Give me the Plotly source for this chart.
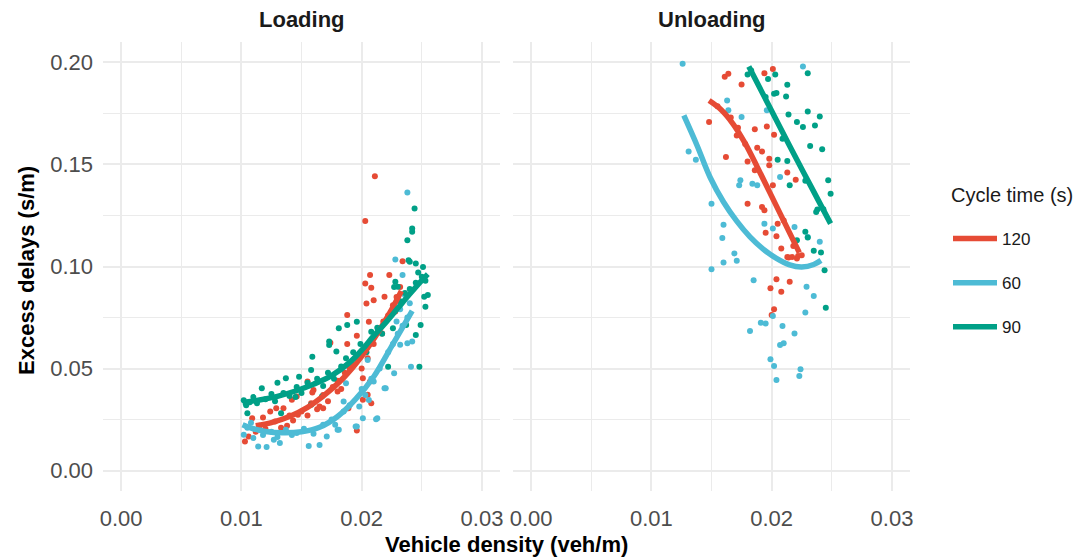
import plotly.graph_objects as go

# ---------------- data ----------------
series = ["120", "60", "90"]
colors = {"120": "#E64B35", "60": "#4DBBD5", "90": "#00A087"}

# Loading panel scatter
load_x_120 = [0.0211, 0.0203, 0.0234, 0.0207, 0.0223, 0.0203, 0.0208, 0.0219, 0.0204, 0.0210, 0.0188, 0.0206,
              0.0196, 0.0188, 0.0217, 0.0174, 0.0205, 0.0190, 0.0201, 0.0155, 0.0160, 0.0146, 0.0165, 0.0135,
              0.0124, 0.0109, 0.0196, 0.0103, 0.0106, 0.0205, 0.0208, 0.0129, 0.0147, 0.0142, 0.0159, 0.0168,
              0.0180, 0.0201, 0.0189, 0.0207, 0.0115, 0.0120, 0.0128, 0.0133, 0.0140, 0.0143, 0.0150, 0.0155,
              0.0158, 0.0163, 0.0168, 0.0172, 0.0176, 0.0180, 0.0183, 0.0186, 0.0192, 0.0197, 0.0200, 0.0210,
              0.0214, 0.0218, 0.0222, 0.0226, 0.0229, 0.0232, 0.0228, 0.0112, 0.0118, 0.0138]
load_y_120 = [0.1442, 0.1223, 0.1026, 0.0958, 0.0958, 0.0917, 0.0896, 0.0852, 0.0819, 0.0835, 0.0762, 0.0729,
              0.0661, 0.0620, 0.0672, 0.0627, 0.0550, 0.0501, 0.0452, 0.0436, 0.0395, 0.0363, 0.0314, 0.0306,
              0.0290, 0.0257, 0.0196, 0.0143, 0.0167, 0.0371, 0.0330, 0.0306, 0.0274, 0.0347, 0.0383, 0.0306,
              0.0387, 0.0347, 0.0306, 0.0436, 0.0220, 0.0205, 0.0240, 0.0210, 0.0270, 0.0245, 0.0290, 0.0270,
              0.0330, 0.0300, 0.0370, 0.0340, 0.0410, 0.0440, 0.0400, 0.0480, 0.0520, 0.0550, 0.0500, 0.0620,
              0.0690, 0.0730, 0.0760, 0.0810, 0.0850, 0.0900, 0.0780, 0.0190, 0.0260, 0.0220]

load_x_60 = [0.0238, 0.0228, 0.0234, 0.0242, 0.0241, 0.0205, 0.0227, 0.0219, 0.0210, 0.0206, 0.0198, 0.0213,
             0.0201, 0.0195, 0.0180, 0.0171, 0.0165, 0.0156, 0.0146, 0.0127, 0.0121, 0.0114, 0.0102, 0.0185,
             0.0187, 0.0220, 0.0232, 0.0238, 0.0212, 0.0196, 0.0181, 0.0105, 0.0108, 0.0115, 0.0118, 0.0125,
             0.0130, 0.0137, 0.0142, 0.0152, 0.0160, 0.0168, 0.0175, 0.0178, 0.0185, 0.0190, 0.0200, 0.0203,
             0.0208, 0.0215, 0.0222, 0.0226, 0.0230, 0.0234, 0.0238, 0.0240, 0.0236, 0.0232, 0.0229, 0.0110,
             0.0132]
load_y_60 = [0.1362, 0.1034, 0.0958, 0.0632, 0.0509, 0.0542, 0.0477, 0.0403, 0.0436, 0.0346, 0.0314, 0.0257,
             0.0257, 0.0216, 0.0200, 0.0167, 0.0126, 0.0121, 0.0184, 0.0151, 0.0115, 0.0118, 0.0176, 0.0338,
             0.0428, 0.0404, 0.0616, 0.0624, 0.0252, 0.0216, 0.0200, 0.0210, 0.0235, 0.0200, 0.0175, 0.0190,
             0.0165, 0.0200, 0.0175, 0.0205, 0.0180, 0.0225, 0.0250, 0.0225, 0.0290, 0.0320, 0.0400, 0.0370,
             0.0450, 0.0500, 0.0580, 0.0620, 0.0670, 0.0710, 0.0750, 0.0820, 0.0860, 0.0790, 0.0730, 0.0160,
             0.0135]

load_x_90 = [0.0244, 0.0242, 0.0242, 0.0238, 0.0240, 0.0245, 0.0251, 0.0228, 0.0230, 0.0255, 0.0253, 0.0252,
             0.0249, 0.0245, 0.0237, 0.0226, 0.0248, 0.0222, 0.0196, 0.0188, 0.0181, 0.0173, 0.0173, 0.0179,
             0.0196, 0.0159, 0.0158, 0.0148, 0.0137, 0.0130, 0.0117, 0.0145, 0.0158, 0.0167, 0.0133, 0.0105,
             0.0102, 0.0104, 0.0107, 0.0110, 0.0113, 0.0120, 0.0125, 0.0128, 0.0135, 0.0140, 0.0146, 0.0150,
             0.0155, 0.0163, 0.0168, 0.0172, 0.0177, 0.0183, 0.0187, 0.0193, 0.0199, 0.0204, 0.0208, 0.0213,
             0.0217, 0.0221, 0.0225, 0.0232, 0.0236, 0.0240, 0.0245, 0.0250, 0.0253, 0.0247, 0.0227, 0.0239]
load_y_90 = [0.1284, 0.1186, 0.1170, 0.1129, 0.1023, 0.1015, 0.0998, 0.0925, 0.0901, 0.0860, 0.0803, 0.0852,
             0.0713, 0.0664, 0.0713, 0.0697, 0.0509, 0.0509, 0.0729, 0.0713, 0.0697, 0.0632, 0.0615, 0.0583,
             0.0558, 0.0558, 0.0493, 0.0460, 0.0452, 0.0431, 0.0403, 0.0360, 0.0322, 0.0363, 0.0281, 0.0281,
             0.0345, 0.0320, 0.0335, 0.0360, 0.0330, 0.0350, 0.0375, 0.0340, 0.0380, 0.0365, 0.0410, 0.0380,
             0.0430, 0.0450, 0.0415, 0.0480, 0.0450, 0.0510, 0.0550, 0.0580, 0.0620, 0.0580, 0.0680, 0.0700,
             0.0670, 0.0740, 0.0770, 0.0830, 0.0870, 0.0890, 0.0920, 0.0950, 0.0930, 0.0970, 0.0900, 0.1031]

# Unloading panel scatter
unload_x_120 = [0.0161, 0.0164, 0.0194, 0.0201, 0.0175, 0.0148, 0.0186, 0.0196, 0.0202, 0.0162, 0.0188, 0.0192,
                0.0198, 0.0198, 0.0180, 0.0213, 0.0220, 0.0186, 0.0201, 0.0180, 0.0192, 0.0194, 0.0205, 0.0195,
                0.0204, 0.0208, 0.0214, 0.0221, 0.0204, 0.0215, 0.0199, 0.0208, 0.0202, 0.0200, 0.0171, 0.0155,
                0.0166, 0.0172, 0.0178, 0.0210, 0.0218, 0.0222, 0.0225, 0.0213, 0.0217]
unload_y_120 = [0.1930, 0.1944, 0.1947, 0.1968, 0.1892, 0.1708, 0.1672, 0.1686, 0.1646, 0.1536, 0.1582, 0.1564,
                0.1528, 0.1496, 0.1515, 0.1460, 0.1425, 0.1471, 0.1398, 0.1308, 0.1292, 0.1276, 0.1210, 0.1165,
                0.1148, 0.1088, 0.1044, 0.1039, 0.0937, 0.0925, 0.0893, 0.0876, 0.0790, 0.0762, 0.1642, 0.1785,
                0.1730, 0.1680, 0.1600, 0.1225, 0.1100, 0.1052, 0.1055, 0.1047, 0.1047]

unload_x_60 = [0.0126, 0.0163, 0.0164, 0.0196, 0.0175, 0.0226, 0.0131, 0.0137, 0.0207, 0.0174, 0.0173, 0.0184,
               0.0188, 0.0150, 0.0194, 0.0201, 0.0219, 0.0160, 0.0159, 0.0230, 0.0240, 0.0169, 0.0171, 0.0160,
               0.0150, 0.0185, 0.0229, 0.0235, 0.0228, 0.0201, 0.0191, 0.0195, 0.0209, 0.0182, 0.0219, 0.0207,
               0.0210, 0.0199, 0.0202, 0.0204, 0.0224, 0.0223]
unload_y_60 = [0.1993, 0.1813, 0.1765, 0.1765, 0.1732, 0.1980, 0.1564, 0.1523, 0.1439, 0.1422, 0.1398, 0.1406,
               0.1398, 0.1308, 0.1210, 0.1186, 0.1194, 0.1205, 0.1140, 0.1145, 0.1121, 0.1064, 0.1028, 0.1020,
               0.0987, 0.0933, 0.0901, 0.0855, 0.0775, 0.0757, 0.0725, 0.0721, 0.0708, 0.0684, 0.0672, 0.0615,
               0.0624, 0.0545, 0.0513, 0.0444, 0.0496, 0.0464]

unload_x_90 = [0.0180, 0.0197, 0.0203, 0.0230, 0.0213, 0.0202, 0.0204, 0.0212, 0.0214, 0.0230, 0.0240, 0.0221,
               0.0226, 0.0236, 0.0209, 0.0232, 0.0242, 0.0205, 0.0213, 0.0215, 0.0247, 0.0249, 0.0237, 0.0238,
               0.0228, 0.0230, 0.0221, 0.0235, 0.0241, 0.0244, 0.0245, 0.0183, 0.0195, 0.0210, 0.0228, 0.0243]
unload_y_90 = [0.1941, 0.1919, 0.1941, 0.1947, 0.1890, 0.1846, 0.1850, 0.1833, 0.1745, 0.1760, 0.1735, 0.1708,
               0.1683, 0.1691, 0.1626, 0.1590, 0.1574, 0.1523, 0.1517, 0.1398, 0.1422, 0.1357, 0.1267, 0.1279,
               0.1170, 0.1142, 0.1129, 0.1077, 0.1069, 0.0982, 0.0798, 0.1960, 0.1830, 0.1630, 0.1420, 0.1280]

# Smoothed trend curves
load_fit_x_120 = [0.0112, 0.0125, 0.0140, 0.0155, 0.0170, 0.0185, 0.0200, 0.0215, 0.0225, 0.0233]
load_fit_y_120 = [0.0220, 0.0235, 0.0265, 0.0310, 0.0375, 0.0455, 0.0560, 0.0690, 0.0790, 0.0880]
load_fit_x_60 = [0.0101, 0.0110, 0.0120, 0.0134, 0.0150, 0.0165, 0.0180, 0.0195, 0.0210, 0.0225, 0.0242]
load_fit_y_60 = [0.0225, 0.0205, 0.0192, 0.0185, 0.0190, 0.0212, 0.0265, 0.0350, 0.0460, 0.0610, 0.0783]
load_fit_x_90 = [0.0101, 0.0115, 0.0130, 0.0145, 0.0160, 0.0175, 0.0190, 0.0200, 0.0210, 0.0220, 0.0230,
                 0.0240, 0.0250, 0.0255]
load_fit_y_90 = [0.0334, 0.0346, 0.0364, 0.0390, 0.0423, 0.0465, 0.0530, 0.0590, 0.0660, 0.0725, 0.0795,
                 0.0865, 0.0932, 0.0963]

unload_fit_x_120 = [0.0148, 0.0158, 0.0168, 0.0178, 0.0188, 0.0198, 0.0208, 0.0218, 0.0223]
unload_fit_y_120 = [0.1813, 0.1768, 0.1698, 0.1603, 0.1488, 0.1368, 0.1248, 0.1128, 0.1068]
unload_fit_x_60 = [0.0127, 0.0138, 0.0149, 0.0160, 0.0171, 0.0182, 0.0193, 0.0204, 0.0215, 0.0225, 0.0235, 0.0241]
unload_fit_y_60 = [0.1740, 0.1593, 0.1435, 0.1316, 0.1222, 0.1145, 0.1085, 0.1040, 0.1008, 0.0998, 0.1010, 0.1030]
unload_fit_x_90 = [0.0181, 0.0198, 0.0215, 0.0232, 0.0249]
unload_fit_y_90 = [0.1980, 0.1785, 0.1590, 0.1400, 0.1210]

x_ticks = [0.0, 0.01, 0.02, 0.03]
x_tick_text = ["0.00", "0.01", "0.02", "0.03"]
y_ticks = [0.0, 0.05, 0.10, 0.15, 0.20]
y_tick_text = ["0.00", "0.05", "0.10", "0.15", "0.20"]

# ---------------- figure ----------------
# The page body has an 8px margin, so the figure is drawn 8px smaller and
# all layout positions are given in window pixels minus that offset.
OFF = 8
W, H = 1081 - OFF, 558 - OFF
FONT = "Liberation Sans, Arial, Helvetica, sans-serif"

scatter = {
    ("x", "y"): {"120": (load_x_120, load_y_120), "60": (load_x_60, load_y_60), "90": (load_x_90, load_y_90)},
    ("x2", "y2"): {"120": (unload_x_120, unload_y_120), "60": (unload_x_60, unload_y_60),
                   "90": (unload_x_90, unload_y_90)},
}
fits = {
    ("x", "y"): {"120": (load_fit_x_120, load_fit_y_120), "60": (load_fit_x_60, load_fit_y_60),
                 "90": (load_fit_x_90, load_fit_y_90)},
    ("x2", "y2"): {"120": (unload_fit_x_120, unload_fit_y_120), "60": (unload_fit_x_60, unload_fit_y_60),
                   "90": (unload_fit_x_90, unload_fit_y_90)},
}

fig = go.Figure()
for (xa, ya), d in scatter.items():
    for s in series:
        xs, ys = d[s]
        fig.add_trace(go.Scatter(x=xs, y=ys, mode="markers", xaxis=xa, yaxis=ya,
                                 marker=dict(color=colors[s], size=6, line=dict(width=0)),
                                 showlegend=False, legendgroup=s, hoverinfo="skip"))
for (xa, ya), d in fits.items():
    for s in series:
        xs, ys = d[s]
        fig.add_trace(go.Scatter(x=xs, y=ys, mode="lines", xaxis=xa, yaxis=ya, name=s,
                                 line=dict(color=colors[s], width=5.5, shape="spline", smoothing=1.0),
                                 showlegend=(xa == "x"), legendgroup=s))

def px_x(p):
    return (p - OFF) / W

def px_y(p):
    return 1 - (p - OFF) / H

grid = "#EBEBEB"
common_x = dict(range=[-0.0015, 0.0315], tickvals=x_ticks, ticktext=x_tick_text, showgrid=True,
                gridcolor=grid, gridwidth=1.6, zeroline=False, showline=False, ticks="", automargin=False,
                tickfont=dict(family=FONT, size=22, color="#4D4D4D"), ticklabelstandoff=12,
                minor=dict(showgrid=True, gridcolor=grid, gridwidth=1.2, tick0=0.005, dtick=0.01))
common_y = dict(range=[-0.01, 0.21], tickvals=y_ticks, ticktext=y_tick_text, showgrid=True,
                gridcolor=grid, gridwidth=1.6, zeroline=False, showline=False, ticks="", automargin=False,
                tickfont=dict(family=FONT, size=22, color="#4D4D4D"),
                minor=dict(showgrid=True, gridcolor=grid, gridwidth=1.2, tick0=0.025, dtick=0.05),
                domain=[px_y(491), px_y(42)])

fig.update_layout(
    width=W, height=H, margin=dict(l=0, r=0, t=0, b=0, autoexpand=False),
    paper_bgcolor="white", plot_bgcolor="white",
    font=dict(family=FONT, color="#1A1A1A"),
    xaxis=dict(common_x, domain=[px_x(103), px_x(500)], anchor="y"),
    xaxis2=dict(common_x, domain=[px_x(513), px_x(910)], anchor="y2"),
    yaxis=dict(common_y, anchor="x", ticklabelstandoff=9),
    yaxis2=dict(common_y, anchor="x2", matches="y", showticklabels=False),
    legend=dict(x=px_x(948), y=px_y(221), xanchor="left", yanchor="top", itemwidth=44,
                font=dict(family=FONT, size=17, color="#1A1A1A"), tracegroupgap=19,
                bgcolor="rgba(0,0,0,0)"),
    showlegend=True,
    annotations=[
        dict(text="<b>Loading</b>", x=px_x(301.5), y=px_y(19), xref="paper", yref="paper",
             showarrow=False, xanchor="center", yanchor="middle",
             font=dict(family=FONT, size=22, color="#1A1A1A")),
        dict(text="<b>Unloading</b>", x=px_x(711.5), y=px_y(19), xref="paper", yref="paper",
             showarrow=False, xanchor="center", yanchor="middle",
             font=dict(family=FONT, size=22, color="#1A1A1A")),
        dict(text="<b>Vehicle density (veh/m)</b>", x=px_x(506.5), y=px_y(544), xref="paper", yref="paper",
             showarrow=False, xanchor="center", yanchor="middle",
             font=dict(family=FONT, size=22, color="#000000")),
        dict(text="<b>Excess delays (s/m)</b>", x=px_x(26), y=px_y(271), xref="paper", yref="paper",
             showarrow=False, xanchor="center", yanchor="middle", textangle=-90,
             font=dict(family=FONT, size=22, color="#000000")),
        dict(text="Cycle time (s)", x=px_x(949), y=px_y(195), xref="paper", yref="paper",
             showarrow=False, xanchor="left", yanchor="middle",
             font=dict(family=FONT, size=20, color="#1A1A1A")),
    ],
)

fig.write_html("out.html")
